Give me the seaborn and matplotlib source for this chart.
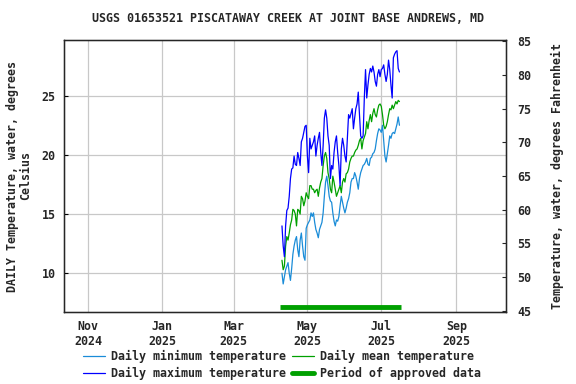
import numpy as np
import pandas as pd
import matplotlib
matplotlib.use("Agg")
import matplotlib.pyplot as plt
import matplotlib.dates as mdates
from matplotlib.lines import Line2D
import seaborn as sns

title = "USGS 01653521 PISCATAWAY CREEK AT JOINT BASE ANDREWS, MD"
start_date = "2025-04-10"

t_max = [14.0, 12.3, 11.4, 14.0, 15.3, 15.5, 16.5, 18.0, 18.8, 18.9,
         19.9, 19.2, 19.1, 20.2, 19.7, 19.1, 21.1, 21.4, 21.9, 22.4,
         22.5, 19.9, 18.5, 21.4, 20.5, 20.8, 21.1, 21.6, 19.9, 20.8,
         21.4, 21.9, 20.2, 19.1, 20.8, 23.1, 23.8, 23.1, 21.6, 20.8,
         18.0, 19.1, 18.8, 20.2, 21.1, 21.6, 20.2, 19.1, 17.4, 20.5,
         21.4, 20.8, 19.9, 19.4, 21.4, 23.4, 23.1, 23.5, 23.9, 22.2,
         23.1, 23.9, 24.3, 25.3, 23.4, 21.6, 21.4, 21.6, 24.8, 27.2,
         24.8, 25.9, 26.8, 27.3, 27.0, 27.5, 27.0, 26.2, 25.8, 26.8,
         27.2, 26.6, 27.2, 27.3, 27.6, 26.8, 26.2, 26.8, 28.0, 27.2,
         25.9, 24.8, 28.2, 28.5, 28.7, 28.8, 27.3, 27.0]

t_mean = [11.1, 10.3, 10.6, 12.3, 13.1, 12.8, 13.4, 14.1, 14.5, 15.4,
          15.3, 15.0, 14.0, 15.4, 15.3, 15.0, 16.5, 16.3, 15.7, 16.1,
          16.8, 16.5, 16.3, 17.4, 17.4, 17.1, 17.1, 16.8, 17.0, 17.1,
          16.5, 17.2, 17.7, 18.0, 19.1, 19.9, 20.2, 19.7, 18.5, 18.0,
          17.1, 16.8, 18.2, 17.7, 17.1, 16.5, 16.8, 17.1, 17.4, 16.8,
          17.7, 18.0, 17.7, 18.4, 18.5, 18.8, 19.4, 19.7, 19.9, 19.9,
          20.2, 20.4, 20.5, 20.8, 21.2, 21.4, 20.5, 21.2, 21.5, 21.8,
          22.8, 22.2, 22.9, 23.4, 22.8, 23.5, 23.9, 23.4, 23.2, 23.8,
          24.2, 24.3, 24.1, 23.4, 22.5, 22.2, 22.4, 22.8, 23.4, 23.9,
          23.8, 24.2, 23.9, 24.2, 24.5, 24.3, 24.6, 24.5]

t_min = [10.0, 9.1, 9.7, 10.3, 10.6, 10.9, 10.0, 9.4, 10.4, 11.6,
         12.3, 12.8, 13.1, 12.0, 11.4, 12.8, 13.4, 12.3, 11.4, 11.1,
         13.8, 14.1, 14.3, 14.5, 15.1, 14.8, 15.1, 14.3, 13.7, 13.4,
         13.0, 13.7, 14.0, 14.3, 15.1, 16.5, 17.7, 18.2, 17.4, 16.5,
         16.1, 16.0, 15.1, 14.4, 14.0, 14.5, 14.4, 14.8, 15.7, 16.5,
         16.0, 15.5, 15.1, 15.5, 16.0, 16.3, 16.8, 17.7, 18.0, 18.0,
         18.5, 18.2, 17.7, 17.1, 18.0, 18.5, 18.8, 19.1, 19.2, 19.4,
         19.7, 19.2, 19.1, 19.7, 19.8, 20.1, 20.2, 20.5, 21.2, 21.8,
         22.2, 22.1, 21.9, 22.5, np.nan, 19.9, 19.4, 20.1, 20.8, 21.6,
         21.4, 21.8, 21.9, 21.8, 22.2, 22.6, 23.2, 22.5]

approved_start = "2025-04-08"
approved_end = "2025-07-17"
approved_level = 7.15

tick_dates = ["2024-11-01", "2025-01-01", "2025-03-01", "2025-05-01", "2025-07-01", "2025-09-01"]
tick_labels = ["Nov\n2024", "Jan\n2025", "Mar\n2025", "May\n2025", "Jul\n2025", "Sep\n2025"]
y_ticks_c = [10, 15, 20, 25]
y_ticks_f = [45, 50, 55, 60, 65, 70, 75, 80, 85]

dates = pd.date_range(start_date, periods=len(t_max), freq="D")
df = pd.DataFrame({"date": dates, "tmin": t_min, "tmean": t_mean, "tmax": t_max})

sns.set_style("white")
plt.rcParams["font.family"] = ["DejaVu Sans Mono"]
plt.rcParams["font.weight"] = "bold"
FS = 8.4

c_min = "#1a8cd8"
c_max = "#0000ff"
c_mean = "#00a000"

fig = plt.figure(figsize=(5.76, 3.84), dpi=100)
ax = fig.add_axes([64/576, 1-312/384, (506-64)/576, (312-40)/384])

sns.lineplot(data=df, x="date", y="tmin", ax=ax, color=c_min, lw=0.9)
sns.lineplot(data=df, x="date", y="tmean", ax=ax, color=c_mean, lw=0.9)
sns.lineplot(data=df, x="date", y="tmax", ax=ax, color=c_max, lw=0.9)
ax.plot(pd.to_datetime([approved_start, approved_end]), [approved_level, approved_level],
        color=c_mean, lw=3.5, solid_capstyle="butt")

ax.set_xlim(pd.Timestamp("2024-10-12"), pd.Timestamp("2025-10-12"))
ax.set_ylim(6.73, 29.70)
ax.set_xticks(pd.to_datetime(tick_dates))
ax.set_xticklabels(tick_labels, fontsize=FS, fontweight="bold")
ax.set_yticks(y_ticks_c)
ax.set_yticklabels([str(v) for v in y_ticks_c], fontsize=FS, fontweight="bold")
ax.grid(True, color="#c8c8c8", lw=0.9)
ax.set_axisbelow(True)
ax.tick_params(axis="both", direction="in", length=3, width=0.8, color="black", pad=6)
ax.tick_params(axis="y", pad=6)
for s in ax.spines.values():
    s.set_color("black")
    s.set_linewidth(1.0)
ax.set_xlabel("")
ax.set_ylabel("DAILY Temperature, water, degrees\nCelsius", fontsize=FS, fontweight="bold",
              labelpad=7, linespacing=0.95)

ax2 = ax.twinx()
ax2.set_ylim(44.85, 85.15)
ax2.set_yticks(y_ticks_f)
ax2.set_yticklabels([str(v) for v in y_ticks_f], fontsize=FS, fontweight="bold")
ax2.tick_params(axis="y", direction="in", length=3, width=0.8, pad=8)
ax2.set_ylabel("Temperature, water, degrees Fahrenheit", fontsize=FS, fontweight="bold", labelpad=14)
ax2.grid(False)

fig.text(0.5, 1-18/384, title, ha="center", va="center", fontsize=FS, fontweight="bold")

handles = [
    Line2D([], [], color=c_min, lw=0.9),
    Line2D([], [], color=c_max, lw=0.9),
    Line2D([], [], color=c_mean, lw=0.9),
    Line2D([], [], color=c_mean, lw=3.5),
]
labels = ["Daily minimum temperature", "Daily maximum temperature",
          "Daily mean temperature", "Period of approved data"]
fig.legend(handles, labels, ncol=2, loc="center", bbox_to_anchor=(0.49, 1-365/384),
           frameon=False, prop={"family": "DejaVu Sans Mono", "weight": "bold", "size": FS},
           handlelength=1.9, handletextpad=0.5, columnspacing=0.5, labelspacing=0.3,
           borderpad=0)

fig.savefig("out.png", dpi=100)
